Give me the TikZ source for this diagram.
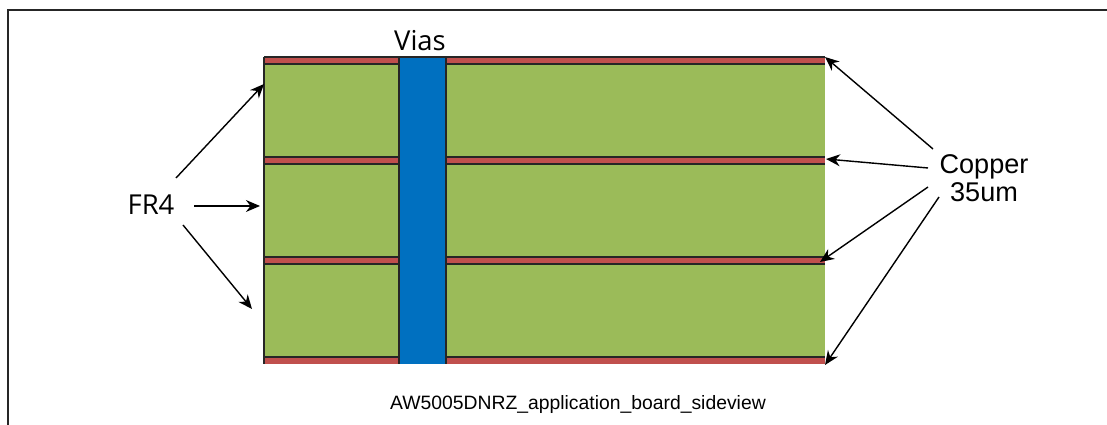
\documentclass[tikz,border=0pt]{standalone}
\usepackage{fontspec}
\setmainfont{Liberation Sans}
\newfontfamily\labelfont{Open Sans}
\usetikzlibrary{arrows.meta}
\definecolor{fr4green}{HTML}{9BBB59}
\definecolor{copperred}{HTML}{C0504D}
\definecolor{viablue}{HTML}{0070C0}
\begin{document}
\begin{tikzpicture}[x=0.01cm,y=-0.01cm]
      \tikzstyle pointer=[line width=0.4pt,-{Stealth[length=4pt,width=3.4pt]}]
      \tikzstyle outline=[line width=0.45pt,black!85]
      \useasboundingbox (0,0) rectangle (1107,425);
      \draw [outline] (8,425) -- (8,10) -- (1107,10);
      \fill [fr4green] (264,57) rectangle (825,364);
      \foreach \y in {57,157,257,357} {
        \fill [copperred] (264,\y) rectangle (825,\y+7);
        \draw [outline] (264,\y) -- (825,\y);
      }
      \foreach \y in {64,164,264}
        \draw [outline] (264,\y) -- (825,\y);
      \draw [outline] (264,57) -- (264,364);
      \fill [viablue] (399,57) rectangle (446,364);
      \draw [outline] (399,364) -- (399,57) -- (446,57) -- (446,364);
      \node [font=\labelfont\fontsize{7.8pt}{9pt}\selectfont] (vias) at (420,41) {Vias};
      \node [align=center,font=\fontsize{7.7pt}{8pt}\selectfont] (copper) at (984,178) {Copper\\35um};
      \node [font=\labelfont\fontsize{7.8pt}{9pt}\selectfont] (frfour) at (151,205) {FR4};
      \node [font=\fontsize{5.5pt}{7pt}\selectfont] (caption) at (578,404) {AW5005DNRZ\_application\_board\_sideview};
      \coordinate (ftop) at (264,84);
      \coordinate (fmid) at (260,206);
      \coordinate (fbot) at (252,309);
      \coordinate (ctop) at (825,57);
      \coordinate (cupper) at (826,159);
      \coordinate (clower) at (820,262);
      \coordinate (cbot) at (825,365);
      \draw [pointer] (176,178) -- (ftop);
      \draw [pointer] (194,206) -- (fmid);
      \draw [pointer] (183,225) -- (fbot);
      \draw [pointer] (933,149) -- (ctop);
      \draw [pointer] (928,168) -- (cupper);
      \draw [pointer] (928,187) -- (clower);
      \draw [pointer] (939,197) -- (cbot);
    \end{tikzpicture}
\end{document}
